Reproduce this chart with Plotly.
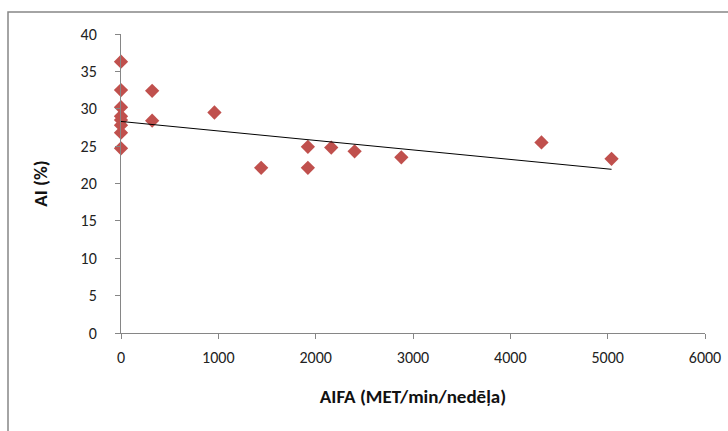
import plotly.graph_objects as go

# Data
aifa = [0, 0, 0, 0, 0, 0, 0, 0,
        320, 320, 960, 1440, 1920, 1920, 2160, 2400, 2880, 4320, 5040]
ai = [36.3, 32.5, 30.2, 29.0, 28.5, 27.8, 26.8, 24.7,
      32.4, 28.4, 29.5, 22.1, 24.9, 22.1, 24.8, 24.3, 23.5, 25.5, 23.3]

# Linear trendline (endpoints)
trend_x = [0, 5040]
trend_y = [28.3, 21.9]

x_ticks = [0, 1000, 2000, 3000, 4000, 5000, 6000]
y_ticks = [0, 5, 10, 15, 20, 25, 30, 35, 40]

FONT = "Calibri, Carlito, Lato, sans-serif"
AXIS_GRAY = "#868686"

W, H = 728, 431
L, T, R, B = 121, 34, 728 - 705, 431 - 333
PW = W - L - R
PH = H - T - B

fig = go.Figure()
fig.add_trace(go.Scatter(
    x=aifa, y=ai, mode="markers",
    marker=dict(symbol="diamond", size=11, color="#C0504D",
                line=dict(width=0)),
    cliponaxis=False, showlegend=False,
))
fig.add_trace(go.Scatter(
    x=trend_x, y=trend_y, mode="lines",
    line=dict(color="#000000", width=1),
    showlegend=False,
))

fig.update_layout(
    width=W, height=H,
    margin=dict(l=L, r=R, t=T, b=B, autoexpand=False),
    paper_bgcolor="white", plot_bgcolor="white",
    font=dict(family=FONT, color="#222222", size=16),
    xaxis=dict(
        range=[0, 6000], tickvals=x_ticks, ticktext=[str(v) for v in x_ticks],
        showgrid=False, zeroline=False, automargin=False,
        showline=True, linecolor=AXIS_GRAY, linewidth=1,
        ticks="outside", ticklen=5, tickcolor=AXIS_GRAY,
        ticklabelstandoff=5,
        title=dict(text="<b>AIFA (MET/min/nedēļa)</b>",
                   font=dict(size=19, family=FONT, color="#111111"),
                   standoff=23),
    ),
    yaxis=dict(
        range=[0, 40], tickvals=y_ticks, ticktext=[str(v) for v in y_ticks],
        showgrid=False, zeroline=False, automargin=False,
        showline=True, linecolor=AXIS_GRAY, linewidth=1,
        ticks="outside", ticklen=5, tickcolor=AXIS_GRAY,
        ticklabelstandoff=15,
        title=dict(text="<b>AI (%)</b>",
                   font=dict(size=19, family=FONT, color="#111111"),
                   standoff=27),
    ),
    shapes=[dict(type="rect", xref="paper", yref="paper",
                 x0=(8 - L) / PW, x1=1.3,
                 y0=-0.6, y1=(H - B - 12) / PH,
                 line=dict(color="#878787", width=1.5),
                 fillcolor="rgba(0,0,0,0)", layer="below")],
)

fig.write_html(
    "out.html",
    config={"displayModeBar": False},
    post_script="document.body.style.margin='0';"
                "document.body.style.overflow='hidden';",
)
